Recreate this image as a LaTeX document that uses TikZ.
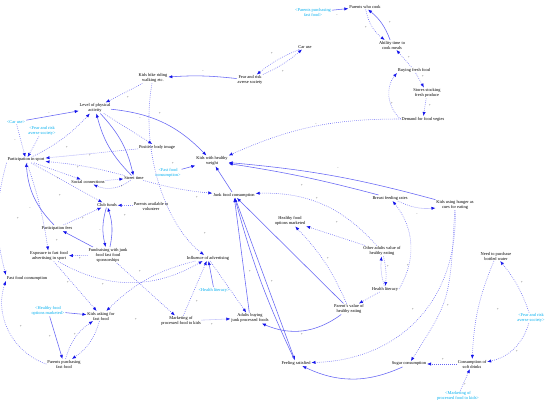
\documentclass[tikz,border=0pt]{standalone}
\usepackage{fontspec}
\setmainfont{Liberation Serif}
\usetikzlibrary{arrows.meta}
\definecolor{lnB}{RGB}{100,100,245}
\definecolor{tipB}{RGB}{20,20,235}
\definecolor{cyT}{RGB}{0,175,240}
\newcommand{\vf}{\fontsize{4.4}{5.0}\selectfont}
\begin{document}
\begin{tikzpicture}[x=1pt,y=-1pt,
  v/.style={font=\vf, align=center, inner sep=0.8pt},
  sh/.style={v, text=cyT},
  sg/.style={font=\fontsize{3.6}{3.6}\selectfont, text=black!70, inner sep=0pt},
  sol/.style={draw=lnB, line width=0.55pt, -{Latex[length=4pt,width=3.2pt,color=tipB]}},
  dot/.style={sol, dash pattern=on 0.7pt off 1.3pt}]
\fill[white] (0,0) rectangle (550,406);
\useasboundingbox (0,0) rectangle (550,406);
% variables
\node[v] (pwc) at (365,7) {Parents who cook};
\node[sh] (ppf2) at (313,12) {<Parents purchasing\\fast food>};
\node[v] (atc) at (392,45) {Ability time to\\cook meals};
\node[v] (car) at (305,47) {Car use};
\node[v] (bff) at (414,70) {Buying fresh food};
\node[v] (ssf) at (427,93) {Stores stocking\\fresh produce};
\node[v] (dfv) at (423,119) {Demand for food vegies};
\node[v] (far) at (250,80) {Fear and risk\\averse society};
\node[v] (kbr) at (153,78) {Kids bike riding\\walking etc.};
\node[v] (lpa) at (95,108) {Level of physical\\activity};
\node[sh] (car2) at (16,122) {<Car use>};
\node[sh] (far2) at (42,131) {<Fear and risk\\averse society>};
\node[v] (pis) at (26,160) {Participation in sport};
\node[v] (pbi) at (157,147) {Positive body image};
\node[v] (khw) at (212,161) {Kids with healthy\\weight};
\node[sh] (ffc2) at (168,173) {<Fast food\\consumption>};
\node[v] (soc) at (88,182) {Social connections};
\node[v] (str) at (134,178) {Street time};
\node[v] (jfc) at (234,195) {Junk food consumption};
\node[v] (bfr) at (390,198) {Breast feeding rates};
\node[v] (kuh) at (455,205) {Kids using hunger as\\cues for eating};
\node[v] (cf) at (107,205) {Club funds};
\node[v] (pav) at (151,206) {Parents available to\\volunteer};
\node[v] (hfo) at (290,221) {Healthy food\\options marketed};
\node[v] (pf) at (57,228) {Participation fees};
\node[v] (oav) at (382,251) {Other adults value of\\healthy eating};
\node[v] (fun) at (108,255) {Fundraising with junk\\food fast food\\sponsorships};
\node[v] (exp) at (49,256) {Exposure to fast food\\advertising in sport};
\node[v] (inf) at (208,258) {Influence of advertising};
\node[v] (hl) at (385,289) {Health literacy};
\node[sh] (hl2) at (214,290) {<Health literacy>};
\node[v] (npb) at (496,256) {Need to purchase\\bottled water};
\node[v] (ffc) at (27,278) {Fast food consumption};
\node[sh] (hfo2) at (48,311) {<Healthy food\\options marketed>};
\node[v] (kaf) at (101,316) {Kids asking for\\fast food};
\node[v] (pve) at (349,309) {Parent's value of\\healthy eating};
\node[v] (mpf) at (181,321) {Marketing of\\processed food to kids};
\node[v] (abj) at (250,318) {Adults buying\\junk processed foods};
\node[sh] (far3) at (531,318) {<Fear and risk\\averse society>};
\node[v] (ppf) at (64,364) {Parents purchasing\\fast food};
\node[v] (fs) at (296,363) {Feeling satisfied};
\node[v] (sug) at (409,364) {Sugar consumption};
\node[v] (csd) at (472,364) {Consumption of\\soft drinks};
\node[sh] (mpf2) at (458,396) {<Marketing of\\processed food to kids>};
% links
\draw[sol] (ppf2) -- (pwc);
\draw[dot] (pwc) to[bend right=20] (atc);
\draw[sol] (atc) to[bend right=15] (pwc);
\draw[dot] (bff) -- (atc);
\draw[dot] (bff) -- (ssf);
\draw[dot] (ssf) -- (dfv);
\draw[dot] (dfv.west) to[bend left=45] (bff.south west);
\draw[dot] (dfv.west) to[bend right=12] (khw.north east);
\draw[dot] (car) to[bend right=8] (far);
\draw[dot] (far) to[bend right=8] (car);
\draw[sol] (far) to[bend right=5] (kbr);
\draw[dot] (kbr) -- (lpa);
\draw[sol] (car2) -- (lpa);
\draw[dot] (car2) -- (pis);
\draw[dot] (far2) -- (pis);
\draw[sol] (lpa) to[bend left=20] (khw);
\draw[sol] (lpa) to[bend left=15] (str);
\draw[sol] (str) to[bend left=15] (lpa);
\draw[dot] (pis) to[bend right=10] (lpa);
\draw[dot] (lpa) -- (pbi);
\draw[dot] (kbr) .. controls (140,150) and (165,225) .. (inf);
\draw[dot] (pbi) -- (pis);
\draw[dot] (str) to[bend right=5] (pis);
\draw[dot] (pis) -- (soc);
\draw[dot] (soc) -- (str);
\draw[dot] (str) to[bend left=30] (soc);
\draw[dot] (str) to[bend right=5] (jfc);
\draw[dot] (pis) -- (cf);
\draw[dot] (pav) -- (cf);
\draw[dot] (pf) -- (cf);
\draw[sol] (pf) to[bend left=20] (pis);
\draw[sol] (fun) to[bend right=15] (cf);
\draw[sol] (cf) to[bend right=15] (fun);
\draw[sol] (fun) -- (pf);
\draw[dot] (fun) -- (exp);
\draw[dot] (pis) to[bend left=5] (exp);
\draw[dot] (pis.south west) to[bend right=15] (ffc.north west);
\draw[dot] (ppf.west) to[bend left=45] (ffc.south west);
\draw[dot] (exp) -- (kaf);
\draw[dot] (exp) to[bend right=30] (inf);
\draw[dot] (inf) to[bend right=15] (kaf);
\draw[dot] (fun) -- (mpf);
\draw[dot] (mpf) -- (inf);
\draw[dot] (mpf) -- (abj);
\draw[dot] (inf) -- (abj);
\draw[sol] (hl2) -- (inf);
\draw[sol] (hfo2) -- (kaf);
\draw[sol] (hfo2) -- (ppf);
\draw[dot] (kaf) to[bend left=20] (ppf);
\draw[dot] (ppf) to[bend left=20] (kaf);
\draw[sol] (jfc) -- (khw);
\draw[sol] (ffc2) -- (khw);
\draw[sol] (bfr) to[bend right=3] (khw);
\draw[sol] (kuh) to[bend right=5] (khw);
\draw[sol] (jfc) -- (fs);
\draw[sol] (fs) to[bend left=5] (jfc);
\draw[sol] (abj) -- (jfc);
\draw[sol] (pve) -- (jfc);
\draw[sol] (pve) to[bend left=30] (abj);
\draw[sol] (sug) to[bend left=25] (fs);
\draw[dot] (kuh) .. controls (458,300) and (400,360) .. (fs);
\draw[dot] (kuh) .. controls (450,300) .. (sug);
\draw[dot] (hl) -- (pve);
\draw[dot] (hl) to[bend left=10] (oav);
\draw[dot] (oav) to[bend left=10] (hl);
\draw[dot] (oav) -- (hfo);
\draw[dot] (pve) to[bend right=10] (hfo);
\draw[dot] (oav) to[bend right=25] (jfc);
\draw[dot] (hl.east) to[bend right=35] (bfr);
\draw[dot] (bfr) to[bend right=15] (kuh);
\draw[dot] (csd) -- (sug);
\draw[dot] (mpf2) -- (csd);
\draw[dot] (far3) to[bend left=30] (csd);
\draw[dot] (far3) to[bend right=10] (npb);
\draw[dot] (npb) to[bend right=10] (csd);
% polarity signs
\foreach \x/\y/\t [count=\i] in {337/15/-,366/27/+,390/22/+,409/57/+,423/76/+,430/105/+,392/103/+,316/124/-,272/53/+,283/71/+,203/71/-,128/97/+,49/113/-,160/113/+,140/118/-,15/140/-,67/147/+,90/155/+,78/167/+,58/178/+,122/186/+,60/195/+,83/218/+,30/208/-,18/218/+,100/230/-,125/215/+,57/240/+,80/258/+,173/163/+,197/197/+,205/233/+,338/168/-,302/185/+,317/198/+,337/222/+,328/258/+,388/266/+,417/214/-,408/265/+,68/282/+,21/326/+,75/334/+,50/336/+,103/284/+,140/271/+,136/319/+,212/324/+,197/301/+,250/271/+,302/334/+,350/379/-,272/281/+,413/309/+,448/305/+,443/359/+,465/384/+,517/351/+,498/309/+,522/282/+}
  \node[sg] (sg\i) at (\x,\y) {\t};
\end{tikzpicture}
\end{document}
